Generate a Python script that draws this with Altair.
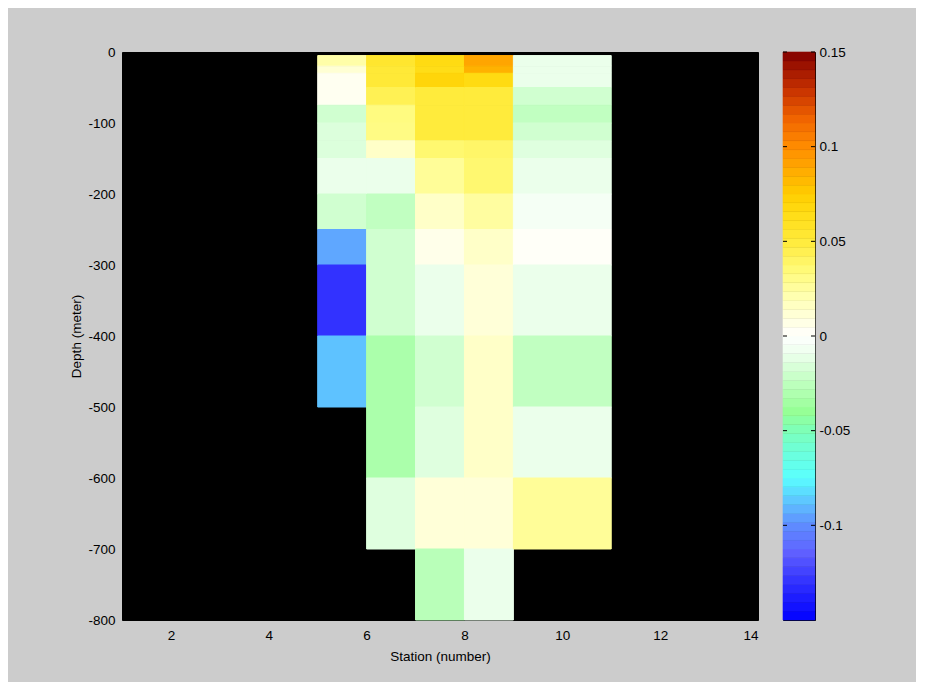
import altair as alt
import pandas as pd
import numpy as np

# ---- data ----
depth_top = [5, 20, 30, 50, 75, 100, 125, 150, 200, 250, 300, 400, 500, 600, 700]
depth_bottom = [20, 30, 50, 75, 100, 125, 150, 200, 250, 300, 400, 500, 600, 700, 800]

col_start = [5, 6, 7, 8, 9]
col_end = [6, 7, 8, 9, 11]

vals_st5 = [0.023, 0.012, 0.004, 0.004, -0.019, -0.015, -0.015, -0.010, -0.019, -0.094, -0.130, -0.088, None, None, None]
vals_st6 = [0.055, 0.052, 0.052, 0.044, 0.033, 0.032, 0.015, -0.010, -0.024, -0.019, -0.019, -0.032, -0.032, -0.014, None]
vals_st7 = [0.066, 0.064, 0.070, 0.050, 0.050, 0.050, 0.037, 0.027, 0.015, 0.006, -0.010, -0.019, -0.014, 0.011, -0.027]
vals_st8 = [0.090, 0.085, 0.066, 0.050, 0.050, 0.050, 0.039, 0.037, 0.025, 0.015, 0.011, 0.015, 0.015, 0.011, -0.010]
vals_st9 = [-0.010, -0.010, -0.010, -0.019, -0.024, -0.019, -0.014, -0.010, -0.005, 0.002, -0.010, -0.024, -0.010, 0.027, None]
columns = [vals_st5, vals_st6, vals_st7, vals_st8, vals_st9]

x_ticks = [2, 4, 6, 8, 10, 12, 14]
y_ticks = [-800, -700, -600, -500, -400, -300, -200, -100, 0]
cbar_ticks = [-0.1, -0.05, 0, 0.05, 0.1, 0.15]

# colormap anchors
cmap_values = [-0.15, -0.13, -0.115, -0.1, -0.09, -0.075, -0.06, -0.05, -0.04, -0.025, -0.01, 0.0,
               0.01, 0.02, 0.035, 0.05, 0.065, 0.075, 0.09, 0.1, 0.115, 0.13, 0.15]
cmap_colors = ["#0000ff", "#3232ff", "#5f5fff", "#5f8cff", "#5fb9ff", "#5affff", "#6effd7", "#7dffb9",
               "#96ff96", "#beffbe", "#ebffeb", "#ffffff", "#ffffdc", "#ffffb4", "#fffa78", "#ffeb3c",
               "#ffdc14", "#ffcd00", "#ffa500", "#ff8c00", "#f06400", "#c83200", "#820000"]

rows = []
for ci, vals in enumerate(columns):
    for ri, v in enumerate(vals):
        if v is None:
            continue
        rows.append({"x0": col_start[ci], "x1": col_end[ci],
                     "y0": -depth_top[ri], "y1": -depth_bottom[ri], "value": v})
cells = pd.DataFrame(rows)

edges = np.linspace(-0.15, 0.15, 65)
levels = pd.DataFrame({"lo": edges[:-1], "hi": edges[1:], "mid": (edges[:-1] + edges[1:]) / 2})
ticks_df = pd.DataFrame({"t": cbar_ticks})

color_scale = alt.Scale(domain=cmap_values, range=cmap_colors, interpolate="rgb")

FONT = "Liberation Sans"
FS = 13.5

heat = alt.Chart(cells).mark_rect(strokeWidth=1).encode(
    x=alt.X("x0:Q", scale=alt.Scale(domain=[1, 14], nice=False, zero=False),
            axis=alt.Axis(values=x_ticks, title="Station (number)", ticks=False,
                          labelPadding=8, titlePadding=8)),
    x2="x1:Q",
    y=alt.Y("y0:Q", scale=alt.Scale(domain=[-800, 0], nice=False),
            axis=alt.Axis(values=y_ticks, title="Depth (meter)", ticks=False, labelPadding=7,
                          labelExpr="toString(datum.value)", titleX=-46, titleBaseline="middle")),
    y2="y1:Q",
    color=alt.Color("value:Q", scale=color_scale, legend=None),
    stroke=alt.Stroke("value:Q", scale=color_scale, legend=None),
).properties(width=636, height=568)

bar = alt.Chart(levels).mark_rect(strokeWidth=0.6).encode(
    y=alt.Y("lo:Q", scale=alt.Scale(domain=[-0.15, 0.15], nice=False, zero=False),
            axis=alt.Axis(orient="right", values=cbar_ticks, title=None, ticks=False,
                          labelPadding=4, labelExpr="toString(datum.value)")),
    y2="hi:Q",
    color=alt.Color("mid:Q", scale=color_scale, legend=None),
    stroke=alt.Stroke("mid:Q", scale=color_scale, legend=None),
)
tick_l = alt.Chart(ticks_df).mark_rule(color="black", strokeWidth=1).encode(
    y=alt.Y("t:Q"), x=alt.value(0), x2=alt.value(4))
tick_r = alt.Chart(ticks_df).mark_rule(color="black", strokeWidth=1).encode(
    y=alt.Y("t:Q"), x=alt.value(28), x2=alt.value(32))
cbar = alt.layer(bar, tick_l, tick_r).properties(width=32, height=568)

chart = alt.hconcat(heat, cbar, spacing=25, bounds="flush").properties(
    background="#cccccc",
    padding={"left": 60, "top": 36, "right": 65, "bottom": 18},
).configure_view(
    fill="black", stroke="black", strokeWidth=1
).configure_axis(
    labelFont=FONT, labelFontSize=FS, labelColor="black",
    titleFont=FONT, titleFontSize=FS, titleFontWeight="normal", titleColor="black",
    grid=False, domain=False,
)

chart.save("out.html", embed_options={"renderer": "svg", "actions": False})
